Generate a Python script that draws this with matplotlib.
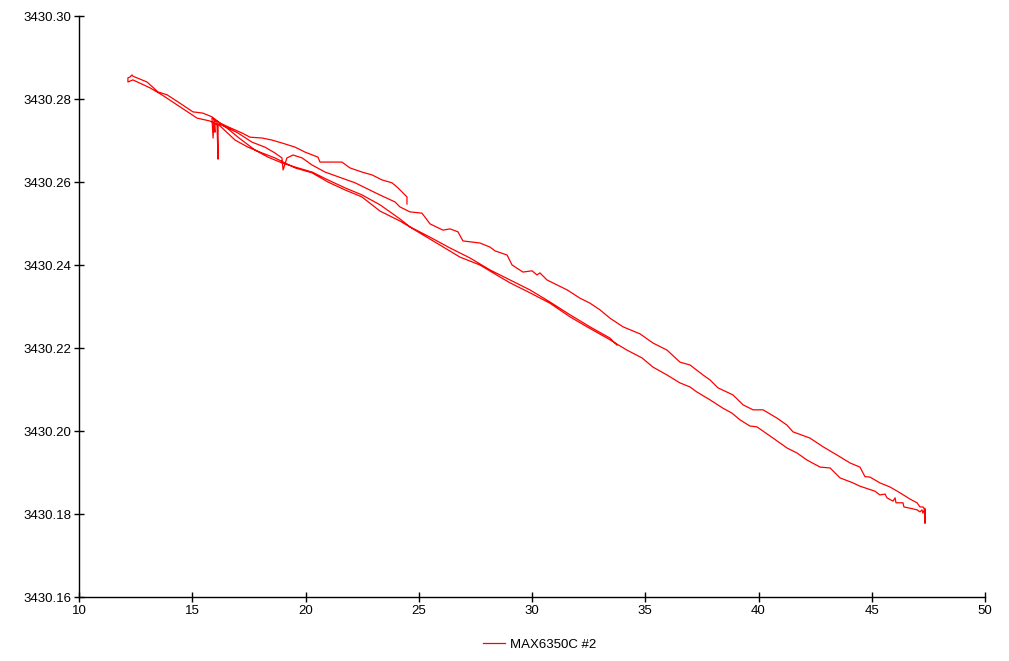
import numpy as np
import matplotlib.pyplot as plt
from matplotlib.ticker import MultipleLocator, FormatStrFormatter

# leg 1: start at ~24.5 C, cooling down to ~12.2 C
temp_leg1 = [24.48, 24.48, 24.08, 23.82, 23.38, 22.94, 22.49, 21.96, 21.61, 21.17, 20.64, 20.55,
             19.98, 19.54, 18.96, 18.52, 18.08, 17.55, 17.20, 16.58, 16.23, 15.87, 15.47, 15.03,
             14.37, 13.89, 13.49, 13.00, 12.38, 12.34, 12.25, 12.16]
freq_leg1 = [3430.2547, 3430.2564, 3430.2586, 3430.2598, 3430.2605, 3430.2617, 3430.2624, 3430.2634,
             3430.2648, 3430.2648, 3430.2648, 3430.2660, 3430.2672, 3430.2684, 3430.2694, 3430.2701,
             3430.2706, 3430.2708, 3430.2718, 3430.2733, 3430.2742, 3430.2757, 3430.2766, 3430.2769,
             3430.2793, 3430.2810, 3430.2817, 3430.2841, 3430.2855, 3430.2858, 3430.2853, 3430.2851]

# leg 2: heating from ~12.2 C up to ~47.4 C
temp_leg2 = [12.16, 12.38, 13.13, 13.66, 14.46, 15.21, 15.78, 16.23, 16.89, 17.46, 18.08, 18.65,
             19.09, 19.54, 20.29, 20.99, 21.74, 22.49, 23.29, 24.17, 25.05, 25.94, 26.82, 27.70,
             28.59, 29.03, 29.91, 30.79, 31.68, 32.43, 33.31, 34.19, 34.86, 35.34, 35.96, 36.53,
             36.98, 37.28, 37.86, 38.43, 38.83, 39.18, 39.62, 39.93, 40.64, 41.26, 41.70, 42.14,
             42.72, 43.16, 43.60, 44.17, 44.48, 45.14, 45.36, 45.59, 45.67, 45.94, 46.03, 46.07,
             46.38, 46.42, 46.69, 47.00, 47.13, 47.22, 47.26, 47.35, 47.35]
freq_leg2 = [3430.2841, 3430.2846, 3430.2827, 3430.2810, 3430.2781, 3430.2754, 3430.2747, 3430.2735,
             3430.2701, 3430.2684, 3430.2670, 3430.2658, 3430.2646, 3430.2634, 3430.2622, 3430.2600,
             3430.2581, 3430.2564, 3430.2530, 3430.2506, 3430.2477, 3430.2448, 3430.2419, 3430.2400,
             3430.2371, 3430.2357, 3430.2333, 3430.2308, 3430.2275, 3430.2251, 3430.2224, 3430.2195,
             3430.2176, 3430.2154, 3430.2135, 3430.2116, 3430.2106, 3430.2094, 3430.2075, 3430.2055,
             3430.2043, 3430.2027, 3430.2012, 3430.2010, 3430.1983, 3430.1959, 3430.1947, 3430.1930,
             3430.1913, 3430.1911, 3430.1887, 3430.1875, 3430.1867, 3430.1855, 3430.1846, 3430.1848,
             3430.1839, 3430.1831, 3430.1839, 3430.1827, 3430.1827, 3430.1817, 3430.1814, 3430.1810,
             3430.1805, 3430.1810, 3430.1802, 3430.1814, 3430.1778]

# leg 3: cooling from ~47.4 C back to ~16 C
temp_leg3 = [47.35, 47.26, 47.13, 47.00, 46.69, 46.25, 45.81, 45.36, 44.92, 44.70, 44.48, 44.04,
             43.47, 42.85, 42.27, 41.52, 41.26, 40.82, 40.20, 39.76, 39.32, 38.87, 38.21, 37.86,
             37.55, 36.98, 36.53, 35.96, 35.34, 34.77, 34.02, 33.44, 33.00, 32.56, 32.12, 31.55,
             31.10, 30.66, 30.35, 30.22, 30.00, 29.60, 29.12, 28.90, 28.37, 28.15, 27.70, 26.95,
             26.73, 26.38, 26.07, 25.50, 25.14, 24.61, 24.17, 23.95, 23.20, 22.19, 20.86, 20.29,
             19.85, 19.45, 19.18, 19.01, 18.96, 18.65, 18.21, 17.64, 17.02, 16.58, 16.31, 16.14,
             16.14, 16.09, 16.00, 16.00, 15.96, 15.92, 15.87]
freq_leg3 = [3430.1810, 3430.1817, 3430.1817, 3430.1827, 3430.1836, 3430.1851, 3430.1865, 3430.1875,
             3430.1889, 3430.1890, 3430.1913, 3430.1923, 3430.1942, 3430.1962, 3430.1983, 3430.1998,
             3430.2014, 3430.2031, 3430.2051, 3430.2051, 3430.2063, 3430.2087, 3430.2104, 3430.2123,
             3430.2135, 3430.2159, 3430.2166, 3430.2195, 3430.2212, 3430.2234, 3430.2251, 3430.2272,
             3430.2292, 3430.2308, 3430.2320, 3430.2340, 3430.2352, 3430.2364, 3430.2381, 3430.2376,
             3430.2386, 3430.2383, 3430.2400, 3430.2424, 3430.2434, 3430.2443, 3430.2453, 3430.2458,
             3430.2480, 3430.2487, 3430.2484, 3430.2499, 3430.2525, 3430.2528, 3430.2540, 3430.2552,
             3430.2571, 3430.2598, 3430.2624, 3430.2641, 3430.2658, 3430.2665, 3430.2658, 3430.2629,
             3430.2658, 3430.2670, 3430.2684, 3430.2696, 3430.2718, 3430.2730, 3430.2737, 3430.2740,
             3430.2655, 3430.2745, 3430.2747, 3430.2720, 3430.2752, 3430.2706, 3430.2754]

# leg 4: heating again from ~16 C, ends at ~33.8 C
temp_leg4 = [15.87, 16.14, 16.58, 17.02, 17.77, 18.34, 18.96, 19.54, 20.29, 20.99, 21.74, 22.49,
             23.29, 24.17, 24.61, 25.50, 26.38, 27.26, 28.15, 29.03, 29.91, 30.79, 31.68, 32.56,
             33.44, 33.75]
freq_leg4 = [3430.2754, 3430.2745, 3430.2728, 3430.2708, 3430.2677, 3430.2660, 3430.2646, 3430.2636,
             3430.2624, 3430.2605, 3430.2586, 3430.2569, 3430.2545, 3430.2511, 3430.2492, 3430.2467,
             3430.2441, 3430.2417, 3430.2388, 3430.2364, 3430.2340, 3430.2311, 3430.2280, 3430.2251,
             3430.2224, 3430.2207]

temp = np.concatenate([temp_leg1, temp_leg2, temp_leg3, temp_leg4])
freq = np.concatenate([freq_leg1, freq_leg2, freq_leg3, freq_leg4])

plt.rcParams["font.family"] = "Liberation Sans"

fig = plt.figure(figsize=(10.09, 6.61), dpi=100, facecolor="white")
ax = fig.add_axes([79 / 1009, 1 - 597 / 661, (985 - 79) / 1009, (597 - 16) / 661])

line, = ax.plot(temp, freq, color="#FF0000", linewidth=0.9, label="MAX6350C #2")

ax.set_xlim(10, 50)
ax.set_ylim(3430.16, 3430.30)
ax.xaxis.set_major_locator(MultipleLocator(5))
ax.yaxis.set_major_locator(MultipleLocator(0.02))
ax.yaxis.set_major_formatter(FormatStrFormatter("%.2f"))
ax.ticklabel_format(useOffset=False, axis="x")

for side in ["top", "right"]:
    ax.spines[side].set_visible(False)
for side in ["left", "bottom"]:
    ax.spines[side].set_linewidth(1.0)
    ax.spines[side].set_color("black")

ax.tick_params(direction="inout", length=7, width=1, labelsize=9.5, colors="black", pad=2)

fig.legend(handles=[line], loc="center", bbox_to_anchor=(0.535, 0.025), frameon=False,
           fontsize=9.5, handlelength=1.6, handletextpad=0.4)

fig.savefig("out.png", dpi=100)
